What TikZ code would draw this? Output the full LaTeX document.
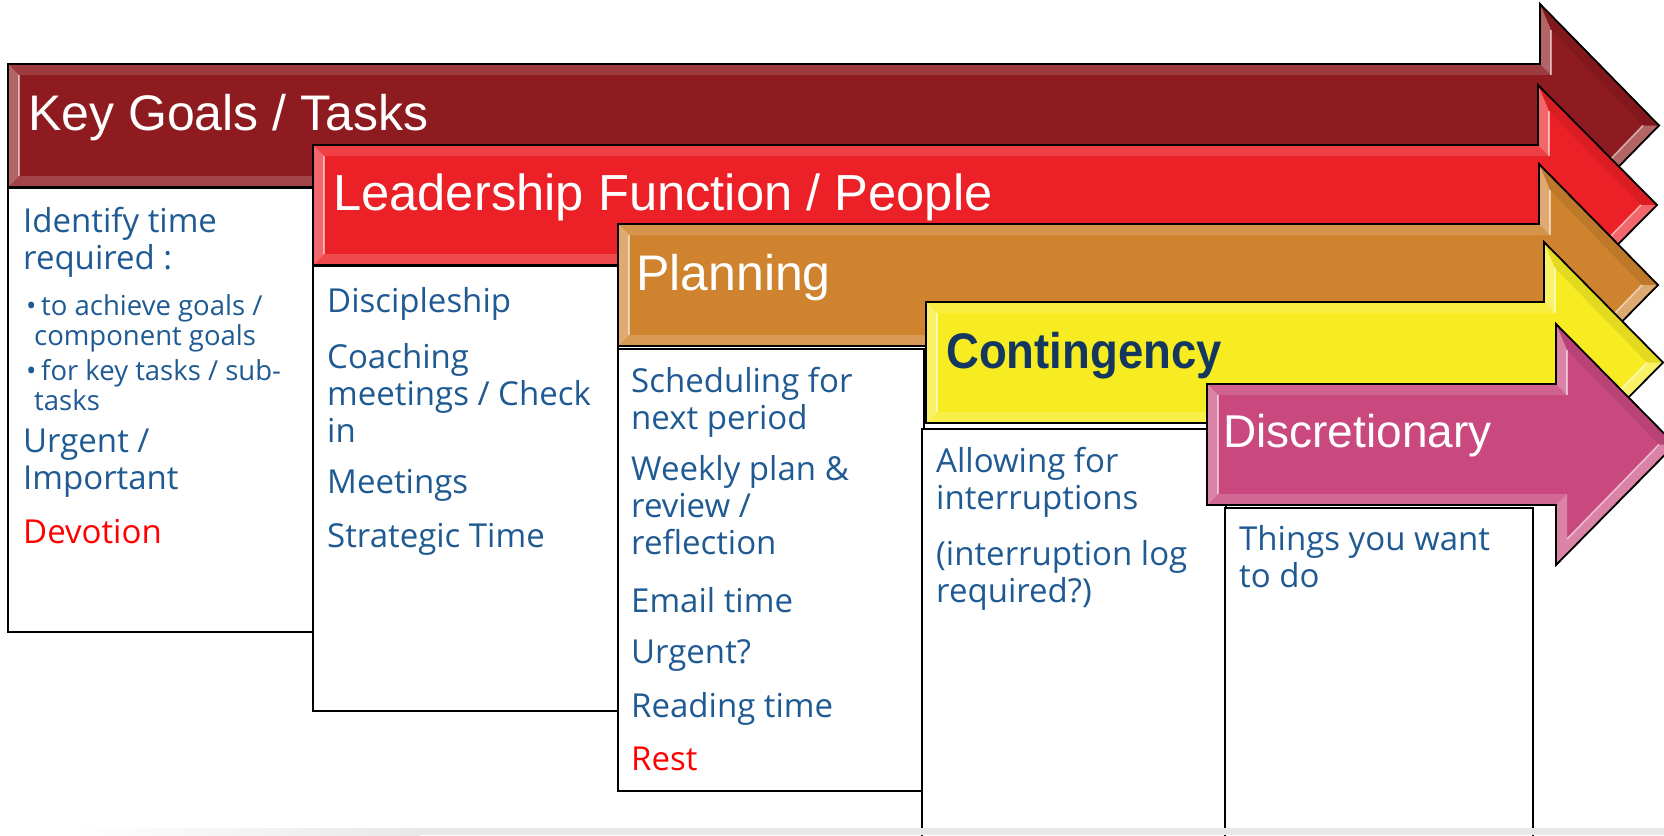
\documentclass[tikz,border=0pt]{standalone}
\usepackage{graphicx}
\usepackage{fontspec}
\newfontfamily\headfont{Liberation Sans}
\newfontfamily\bodyfont{Open Sans}

\definecolor{goalred}{HTML}{8E1B1F}
\definecolor{leadred}{HTML}{EC2027}
\definecolor{planorange}{HTML}{CF832E}
\definecolor{contyellow}{HTML}{F7EC22}
\definecolor{discpink}{HTML}{C9497E}
\definecolor{bodyblue}{HTML}{1F5A92}
\definecolor{navy}{HTML}{14375F}

\tikzset{
  outline/.style={draw=black, line width=1.8pt, line join=miter},
  litface/.style={fill=white, fill opacity=0.32},
  shadeface/.style={fill=black, fill opacity=0.08},
  glint/.style={draw=white, draw opacity=0.55, line width=1.6pt},
  panel/.style={draw=black, line width=1.6pt, fill=white},
  head/.style={anchor=base west, inner sep=0pt, text=white,
    font=\headfont\fontsize{50}{55}\selectfont},
  body/.style={anchor=base west, inner sep=0pt, text=bodyblue,
    font=\bodyfont\fontsize{33}{37}\selectfont},
  small/.style={body, font=\bodyfont\fontsize{27.5}{30}\selectfont},
  note/.style={body, text=red},
}

% several lines set flush left, the box sitting on the first baseline
\newcommand\stack[1]{\parbox[t]{290pt}{\raggedright #1}}

% a block arrow with a bevelled rim:
% #1 left x, #2 top y, #3 bottom y, #4 x of the head's back edge, #5 fill colour
\newcommand\bevelarrow[5]{%
  \pgfmathsetmacro\bvxa{#1}%
  \pgfmathsetmacro\bvyt{#2}%
  \pgfmathsetmacro\bvyb{#3}%
  \pgfmathsetmacro\bvxn{#4}%
  \pgfmathsetmacro\bvym{(#2+#3)/2}%
  \pgfmathsetmacro\bvyh{#2-60}%
  \pgfmathsetmacro\bvyl{#3+60}%
  \pgfmathsetmacro\bvxt{#4+119}%
  \pgfmathsetmacro\bvxi{#1+11}%
  \pgfmathsetmacro\bvyti{#2+11}%
  \pgfmathsetmacro\bvybi{#3-11}%
  \pgfmathsetmacro\bvxni{#4+11}%
  \pgfmathsetmacro\bvyhi{#2-60+26}%
  \pgfmathsetmacro\bvyli{#3+60-26}%
  \pgfmathsetmacro\bvxti{#4+119-16}%
  \fill[#5] (\bvxa,\bvyt) -- (\bvxn,\bvyt) -- (\bvxn,\bvyh) -- (\bvxt,\bvym)
     -- (\bvxn,\bvyl) -- (\bvxn,\bvyb) -- (\bvxa,\bvyb) -- cycle;
  \fill[litface] (\bvxa,\bvyt) -- (\bvxi,\bvyti) -- (\bvxi,\bvybi) -- (\bvxa,\bvyb) -- cycle;
  \fill[litface, fill opacity=0.14] (\bvxa,\bvyt) -- (\bvxn,\bvyt) -- (\bvxni,\bvyti) -- (\bvxi,\bvyti) -- cycle;
  \fill[litface] (\bvxn,\bvyt) -- (\bvxn,\bvyh) -- (\bvxni,\bvyhi) -- (\bvxni,\bvyti) -- cycle;
  \fill[shadeface] (\bvxn,\bvyh) -- (\bvxt,\bvym) -- (\bvxti,\bvym) -- (\bvxni,\bvyhi) -- cycle;
  \fill[litface] (\bvxt,\bvym) -- (\bvxn,\bvyl) -- (\bvxni,\bvyli) -- (\bvxti,\bvym) -- cycle;
  \fill[litface] (\bvxn,\bvyl) -- (\bvxn,\bvyb) -- (\bvxni,\bvybi) -- (\bvxni,\bvyli) -- cycle;
  \fill[litface, fill opacity=0.18] (\bvxa,\bvyb) -- (\bvxn,\bvyb) -- (\bvxni,\bvybi) -- (\bvxi,\bvybi) -- cycle;
  \draw[glint] (\bvxi,\bvyti) -- (\bvxi,\bvybi);
  \draw[glint] (\bvxni,\bvyhi) -- (\bvxni,\bvyti);
  \draw[glint] (\bvxti,\bvym) -- (\bvxni,\bvyli);
  \draw[outline] (\bvxa,\bvyt) -- (\bvxn,\bvyt) -- (\bvxn,\bvyh) -- (\bvxt,\bvym)
     -- (\bvxn,\bvyl) -- (\bvxn,\bvyb) -- (\bvxa,\bvyb) -- cycle;
}

\begin{document}
\begin{tikzpicture}[x=1pt, y=-1pt]
\useasboundingbox (0,0) rectangle (1664,835);
\clip (0,0) rectangle (1664,835);
\fill[white] (0,0) rectangle (1664,835);

% ---- Key goals / tasks
\bevelarrow{8}{64}{187}{1540}{goalred}
\node[head] (goals) at (28,130) {Key Goals / Tasks};
\draw[panel] (8,188) rectangle (313,632);
\node[body] (goalsA) at (23,232) {\stack{Identify time\\required :}};
\node[small] (dotA) at (26,315) {•};
\node[small] (goalsB) at (34,315) {\stack{\hspace*{7pt}to achieve goals /\\component goals}};
\node[small] (dotB) at (26,380) {•};
\node[small] (goalsC) at (34,380) {\stack{\hspace*{7pt}for key tasks / sub-\\tasks}};
\node[body] (goalsD) at (23,452) {\stack{Urgent /\\Important}};
\node[note] (goalsE) at (23,543) {Devotion};

% ---- Leadership function / people
\bevelarrow{313}{145}{265}{1538}{leadred}
\node[head] (lead) at (333,210) {\fontsize{50.7}{55}\selectfont Leadership Function / People};
\draw[panel] (313,266) rectangle (618,711);
\node[body] (leadA) at (327,312) {Discipleship};
\node[body] (leadB) at (327,368) {\stack{Coaching\\meetings / Check\\in}};
\node[body] (leadC) at (327,493) {Meetings};
\node[body] (leadD) at (327,547) {Strategic Time};

% ---- Planning
\bevelarrow{618}{224}{346}{1539}{planorange}
\node[head] (plan) at (636,290) {Planning};
\draw[panel] (618,349) rectangle (924,791);
\node[body] (planA) at (631,392) {\stack{Scheduling for\\next period}};
\node[body] (planB) at (631,480) {\stack{Weekly plan \&\\review /\\reflection}};
\node[body] (planC) at (631,612) {Email time};
\node[body] (planD) at (631,663) {Urgent?};
\node[body] (planE) at (631,717) {Reading time};
\node[note] (planF) at (631,770) {Rest};

% ---- Contingency
\bevelarrow{926}{302}{423}{1544}{contyellow}
\node[head, text=navy] (cont) at (946,368) {\bfseries\fontsize{50}{55}\selectfont\scalebox{0.91}[1]{Contingency}};
\draw[panel] (922,429) rectangle (1226,850);
\node[body] (contA) at (936,472) {\stack{Allowing for\\interruptions}};
\node[body] (contB) at (936,565) {\stack{(interruption log\\required?)}};

% ---- Discretionary
\bevelarrow{1207}{384}{505}{1556}{discpink}
\node[head] (disc) at (1223,447) {\fontsize{46}{50}\selectfont Discretionary};
\draw[panel] (1225,508) rectangle (1533,850);
\node[body] (discA) at (1239,550) {\stack{Things you want\\to do}};

% soft shadow along the lower edge
\shade[left color=white, right color=black!9] (70,828) rectangle (420,835);
\fill[black!9] (420,828) rectangle (1664,835);
\end{tikzpicture}
\end{document}
